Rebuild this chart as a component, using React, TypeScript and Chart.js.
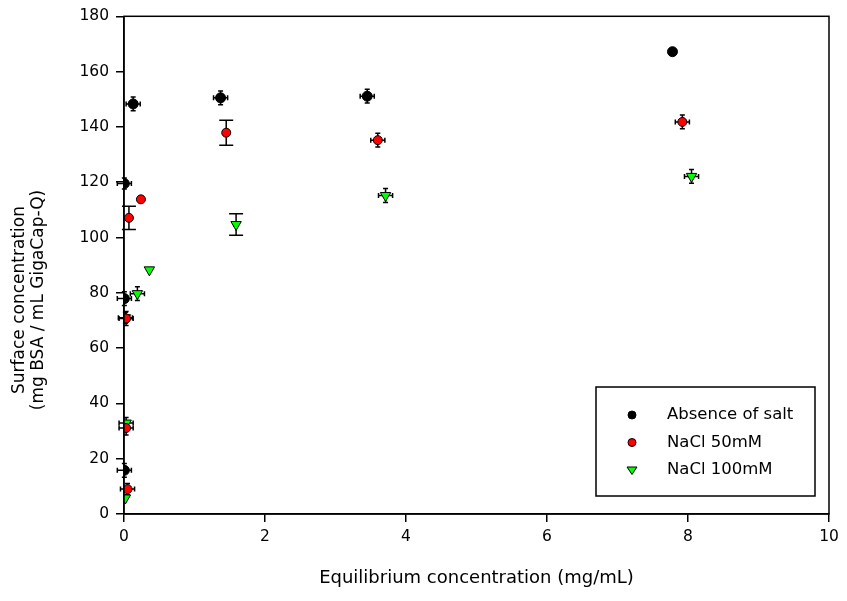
import React, { useEffect, useRef } from "react";
import { Chart, registerables } from "chart.js";

Chart.register(...registerables);

// ---- data ----
const seriesLabels = ["Absence of salt", "NaCl 50mM", "NaCl 100mM"];

const noSaltX = [0.005, 0.005, 0.005, 0.13, 1.37, 3.45, 7.78];
const noSaltY = [15.8, 77.9, 119.5, 148.3, 150.5, 151.1, 167.2];
const noSaltXErr = [0.1, 0.1, 0.1, 0.1, 0.1, 0.1, 0];
const noSaltYErr = [2.5, 2.5, 2, 2.5, 2.5, 2.5, 0];

const nacl50X = [0.05, 0.03, 0.03, 0.07, 0.24, 1.45, 3.6, 7.92];
const nacl50Y = [9.0, 31.1, 70.7, 107.1, 113.8, 137.9, 135.2, 141.8];
const nacl50XErr = [0.1, 0.1, 0.1, 0.03, 0, 0.03, 0.1, 0.1];
const nacl50YErr = [2, 2.5, 2.5, 4.2, 0, 4.5, 2.5, 2.5];

const nacl100X = [0.02, 0.03, 0.02, 0.19, 0.36, 1.59, 3.71, 8.05];
const nacl100Y = [5.8, 32.9, 71.0, 79.7, 88.3, 104.7, 115.2, 122.1];
const nacl100XErr = [0, 0.1, 0.1, 0.1, 0, 0.03, 0.1, 0.1];
const nacl100YErr = [0, 2, 2, 2.5, 0, 3.9, 2.5, 2.5];

const xTitle = "Equilibrium concentration (mg/mL)";
const yTitleLines = ["Surface concentration", "(mg BSA / mL GigaCap-Q)"];

const FONT = "'DejaVu Sans', sans-serif";

function pts(xs: number[], ys: number[], xe: number[], ye: number[]) {
  return xs.map((x, i) => ({ x, y: ys[i], xErr: xe[i], yErr: ye[i] }));
}

const errorBarPlugin = {
  id: "errorBars",
  beforeDatasetsDraw(chart: any) {
    const ctx = chart.ctx;
    const xs = chart.scales.x;
    const ys = chart.scales.y;
    ctx.save();
    ctx.strokeStyle = "#000";
    ctx.lineWidth = 1.5;
    chart.data.datasets.forEach((ds: any) => {
      ds.data.forEach((p: any) => {
        const px = xs.getPixelForValue(p.x);
        const py = ys.getPixelForValue(p.y);
        if (p.yErr > 0) {
          const y1 = ys.getPixelForValue(p.y + p.yErr);
          const y2 = ys.getPixelForValue(p.y - p.yErr);
          const cap = p.yErr > 3 ? 7 : 2.5;
          ctx.beginPath();
          ctx.moveTo(px, y1);
          ctx.lineTo(px, y2);
          ctx.moveTo(px - cap, y1);
          ctx.lineTo(px + cap, y1);
          ctx.moveTo(px - cap, y2);
          ctx.lineTo(px + cap, y2);
          ctx.stroke();
        }
        if (p.xErr > 0) {
          const x1 = xs.getPixelForValue(p.x - p.xErr);
          const x2 = xs.getPixelForValue(p.x + p.xErr);
          ctx.beginPath();
          ctx.moveTo(x1, py);
          ctx.lineTo(x2, py);
          ctx.moveTo(x1, py - 2.5);
          ctx.lineTo(x1, py + 2.5);
          ctx.moveTo(x2, py - 2.5);
          ctx.lineTo(x2, py + 2.5);
          ctx.stroke();
        }
      });
    });
    ctx.restore();
  },
};

const frameAndTextPlugin = {
  id: "frameAndText",
  afterDraw(chart: any) {
    const ctx = chart.ctx;
    const a = chart.chartArea;
    ctx.save();
    // frame
    ctx.strokeStyle = "#000";
    ctx.lineWidth = 1.5;
    ctx.strokeRect(a.left, a.top, a.right - a.left, a.bottom - a.top);
    // y title (two lines, rotated)
    ctx.fillStyle = "#000";
    ctx.font = `17px ${FONT}`;
    ctx.textAlign = "center";
    ctx.textBaseline = "middle";
    const cy = a.top + (a.bottom - a.top) * 0.57;
    yTitleLines.forEach((t, i) => {
      ctx.save();
      ctx.translate(20 + i * 19, cy);
      ctx.rotate(-Math.PI / 2);
      ctx.fillText(t, 0, 0);
      ctx.restore();
    });
    // legend
    const bx = a.right - 233;
    const by = a.bottom - 127;
    const bw = 219;
    const bh = 109;
    ctx.fillStyle = "#fff";
    ctx.fillRect(bx, by, bw, bh);
    ctx.strokeStyle = "#000";
    ctx.lineWidth = 1.5;
    ctx.strokeRect(bx, by, bw, bh);
    chart.data.datasets.forEach((ds: any, i: number) => {
      const ly = by + 28 + i * 27.5;
      const mx = bx + 36;
      ctx.fillStyle = ds.backgroundColor;
      ctx.strokeStyle = ds.borderColor;
      ctx.lineWidth = 1;
      ctx.beginPath();
      if (ds.pointStyle === "triangle") {
        const r = 5;
        ctx.moveTo(mx - r, ly - r * 0.6);
        ctx.lineTo(mx + r, ly - r * 0.6);
        ctx.lineTo(mx, ly + r * 0.9);
        ctx.closePath();
      } else {
        ctx.arc(mx, ly, 4, 0, Math.PI * 2);
      }
      ctx.fill();
      ctx.stroke();
      ctx.fillStyle = "#000";
      ctx.font = `16.5px ${FONT}`;
      ctx.textAlign = "left";
      ctx.textBaseline = "middle";
      ctx.fillText(ds.label, bx + 71, ly);
    });
    ctx.restore();
  },
};

export default function App() {
  const ref = useRef<HTMLCanvasElement>(null);
  useEffect(() => {
    if (!ref.current) return;
    const chart = new Chart(ref.current, {
      type: "scatter",
      data: {
        datasets: [
          {
            label: seriesLabels[0],
            data: pts(noSaltX, noSaltY, noSaltXErr, noSaltYErr),
            pointStyle: "circle",
            pointRadius: 5,
            backgroundColor: "#000000",
            borderColor: "#000000",
            borderWidth: 1,
          },
          {
            label: seriesLabels[1],
            data: pts(nacl50X, nacl50Y, nacl50XErr, nacl50YErr),
            pointStyle: "circle",
            pointRadius: 4.5,
            backgroundColor: "#ff0000",
            borderColor: "#000000",
            borderWidth: 1,
          },
          {
            label: seriesLabels[2],
            data: pts(nacl100X, nacl100Y, nacl100XErr, nacl100YErr),
            pointStyle: "triangle",
            rotation: 180,
            pointRadius: 6,
            backgroundColor: "#00ff00",
            borderColor: "#000000",
            borderWidth: 1,
          } as any,
        ],
      },
      options: {
        animation: false,
        responsive: true,
        maintainAspectRatio: false,
        layout: { padding: { top: 16, right: 18, left: 0, bottom: 0 } },
        plugins: {
          legend: { display: false },
          tooltip: { enabled: false },
        },
        scales: {
          x: {
            type: "linear",
            min: 0,
            max: 10,
            ticks: {
              stepSize: 2,
              color: "#000",
              padding: 6,
              font: { family: FONT, size: 15.5 },
            },
            grid: {
              drawOnChartArea: false,
              drawTicks: true,
              tickLength: 8,
              color: "#000",
              lineWidth: 1.5,
            },
            border: { display: true, color: "#000", width: 1.5 },
            title: {
              display: true,
              text: xTitle,
              color: "#000",
              font: { family: FONT, size: 18 },
              padding: { top: 0, bottom: 12 },
            },
            afterFit: (s: any) => {
              s.height = 87;
            },
          },
          y: {
            type: "linear",
            min: 0,
            max: 180,
            ticks: {
              stepSize: 20,
              color: "#000",
              padding: 7,
              font: { family: FONT, size: 15.5 },
            },
            grid: {
              drawOnChartArea: false,
              drawTicks: true,
              tickLength: 8,
              color: "#000",
              lineWidth: 1.5,
            },
            border: { display: true, color: "#000", width: 1.5 },
            afterFit: (s: any) => {
              s.width = 124;
            },
          },
        },
      },
      plugins: [errorBarPlugin, frameAndTextPlugin],
    });
    return () => chart.destroy();
  }, []);
  return (
    <div style={{ position: "absolute", left: 0, top: 0, width: 847, height: 601, background: "#fff" }}>
      <canvas ref={ref} />
    </div>
  );
}
